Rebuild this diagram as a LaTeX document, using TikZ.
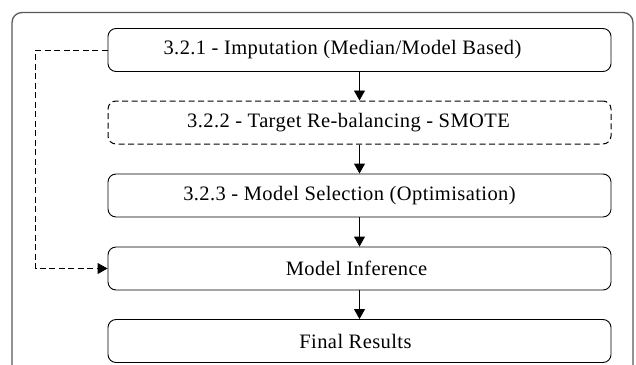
\documentclass[tikz,border=0pt]{standalone}
\usepackage{fontspec}
\setmainfont{Liberation Serif}[LetterSpace=2]
\usetikzlibrary{arrows.meta}
\begin{document}
\begin{tikzpicture}[x=1pt,y=-1pt,
  stepbox/.style={draw, line width=0.9pt, rounded corners=8pt, minimum width=503pt, minimum height=43pt, inner sep=0pt},
  dashbox/.style={stepbox, line width=1pt, dash pattern=on 6pt off 3.5pt},
  txt/.style={font=\fontsize{20.5}{24}\selectfont, inner sep=0pt},
  flow/.style={line width=0.9pt, -{Triangle[width=11pt,length=10pt]}},
  fb/.style={line width=1pt, dash pattern=on 6pt off 3.5pt, -{Triangle[width=11pt,length=10pt]}}]
\useasboundingbox (0,0) rectangle (636,364);
\draw[line width=1.3pt, draw=black!65, rounded corners=10pt] (12,12.5) rectangle (633,390);
\node[stepbox] (b1) at (359.5,50) {};
\node[dashbox] (b2) at (359.5,122.5) {};
\node[stepbox] (b3) at (359.5,195.5) {};
\node[stepbox] (b4) at (359.5,268.5) {};
\node[stepbox] (b5) at (359.5,341) {};
\node[txt] (t1) at (342.5,50) {3.2.1 - Imputation (Median/Model Based)};
\node[txt] (t2) at (348.5,122.5) {3.2.2 - Target Re-balancing - SMOTE};
\node[txt] (t3) at (349.5,195.5) {3.2.3 - Model Selection (Optimisation)};
\node[txt] (t4) at (356.5,268.5) {Model Inference};
\node[txt] (t5) at (355.5,341) {Final Results};
\draw[flow] (b1) -- (b2);
\draw[flow] (b2) -- (b3);
\draw[flow] (b3) -- (b4);
\draw[flow] (b4) -- (b5);
\draw[fb] (b1.west) -- ++(-72,0) |- (b4.west);
\end{tikzpicture}
\end{document}
